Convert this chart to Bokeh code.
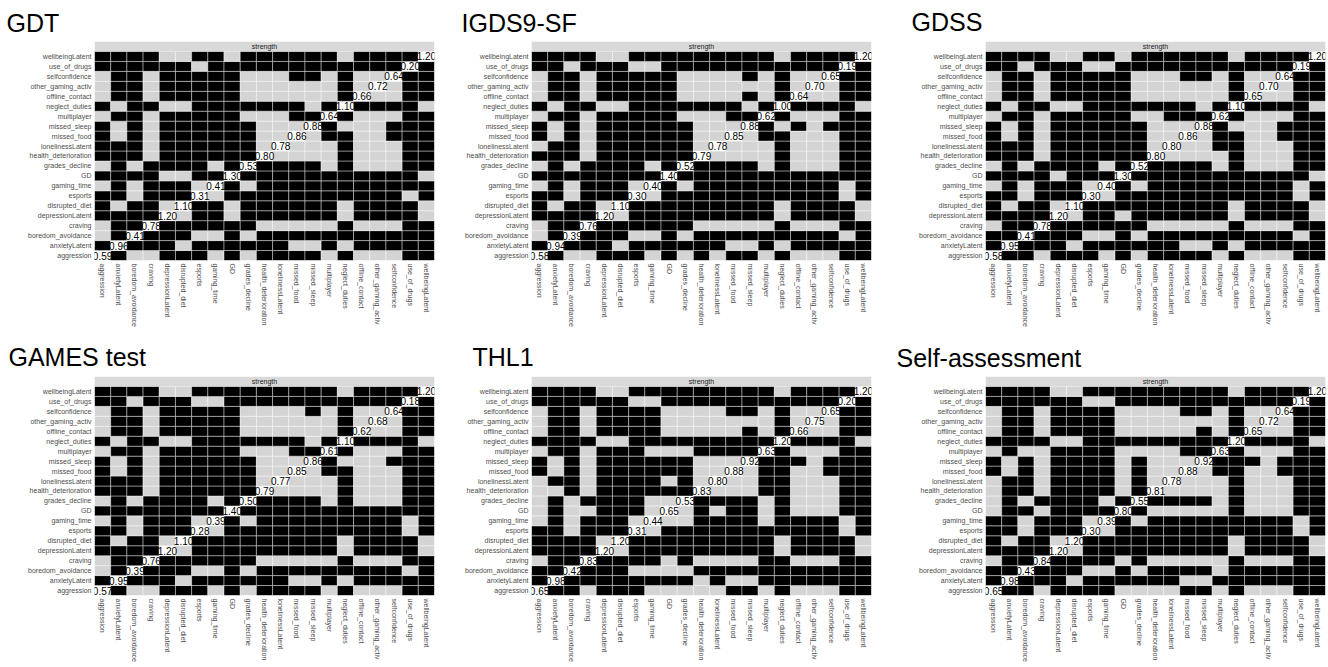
import math
from bokeh.plotting import figure
from bokeh.models import BoxAnnotation, Label, FactorRange, ColumnDataSource
from bokeh.layouts import row, column
from bokeh.embed import file_html
from bokeh.resources import INLINE
from bokeh.core.properties import value

# ---------------- data ----------------
variables = ["aggression", "anxietyLatent", "boredom_avoidance", "craving", "depressionLatent",
             "disrupted_diet", "esports", "gaming_time", "GD", "grades_decline",
             "health_deterioration", "lonelinessLatent", "missed_food", "missed_sleep",
             "multiplayer", "neglect_duties", "offline_contact", "other_gaming_activ",
             "selfconfidence", "use_of_drugs", "wellbeingLatent"]
strip_label = "strength"
panel_titles = ["GDT", "IGDS9-SF", "GDSS", "GAMES test", "THL1", "Self-assessment"]

# rows in the order of `variables` (bottom row first); '#' = black (significant difference),
# '.' = grey (not significant), 'o' = diagonal (node strength shown as text)
gdt_cells = [
    "o#..###.#.####.#...##", "#o###.######..#.#####", ".#o###..#.###########",
    ".##o######.....#...##", "####o.##.######.####.", "#.##.o##.######.####.",
    "##.###o.###########.#", ".#.###.o#.###########", "####..##o###########.",
    ".#.####.#o####.#...##", "###.######o....#...##", "###.######.o...#...##",
    "#.#.######..o.##..###", "#.#.######...o#...###", ".##.#####...##o#...##",
    "#.##..#######.#o####.", ".##.#####......#o..##", ".##.#####......#.o.##",
    ".##.#####...##.#..o##", "######.############o#", "####..##.######.####o"]
gdt_diag = [0.59, 0.96, 0.41, 0.78, 1.20, 1.10, 0.31, 0.41, 1.30, 0.53, 0.80,
            0.78, 0.86, 0.88, 0.64, 1.10, 0.66, 0.72, 0.64, 0.20, 1.20]

igds_cells = [
    "o#..###.#.#.##.#...##", "#o###.######..#.#####", ".#o###..#.#########.#",
    ".##o######.....#...##", "####o.#########.####.", "#.##.o#########.####.",
    "##.###o.###########.#", ".#.###.o#.#########.#", "########o############",
    ".#.####.#o####.#...##", "###.######o....#...##", ".##.######.o...#...##",
    "#.#.######..o.##...##", "#.#.######...o#.#.###", ".##.#####...##o#...##",
    "#.##..#######.#o####.", ".##.#####....#.#o..##", ".##.#####......#.o.##",
    ".##.#####....#.#..o##", "##.###..###########o#", "####..#########.####o"]
igds_diag = [0.58, 0.94, 0.39, 0.76, 1.20, 1.10, 0.30, 0.40, 1.40, 0.52, 0.79,
             0.78, 0.85, 0.88, 0.62, 1.00, 0.64, 0.70, 0.65, 0.19, 1.20]

gdss_cells = [
    "o##.###.#.####.#...##", "#o###.######..#.#####", "##o###..#.#########.#",
    ".##o######.....#...##", "####o.##.######.####.", "#.##.o#########.####.",
    "##.###o.###########.#", ".#.###.o#.#########.#", "####.###o###########.",
    ".#.####.#o####.#...##", "###.######o....#...##", "###.######.o..##...##",
    "#.#.######..o.##..###", "#.#.######...o#...###", ".##.#####..###o#...##",
    "#.##..#######.#o####.", ".##.#####......#o..##", ".##.#####......#.o.##",
    ".##.#####...##.#..o##", "##.###..###########o#", "####..##.######.####o"]
gdss_diag = [0.58, 0.95, 0.41, 0.78, 1.20, 1.10, 0.30, 0.40, 1.30, 0.52, 0.80,
             0.80, 0.86, 0.88, 0.62, 1.10, 0.65, 0.70, 0.64, 0.19, 1.20]

games_cells = [
    "o#..###.#.####.#...##", "#o###.######..#.#####", ".#o###..#.#########.#",
    ".##o######.....#...##", "####o.#########.####.", "#.##.o#########.####.",
    "##.###o.###########.#", ".#.###.o#.#########.#", "########o############",
    ".#.####.#o####.#...##", "###.######o....#...##", "###.######.o...#...##",
    "#.#.######..o.##...##", "#.#.######...o#...###", ".##.#####...##o#...##",
    "#.##..#######.#o####.", ".##.#####......#o..##", ".##.#####......#.o.##",
    ".##.#####....#.#..o##", "##.###..###########o#", "####..#########.####o"]
games_diag = [0.57, 0.95, 0.39, 0.76, 1.20, 1.10, 0.28, 0.39, 1.40, 0.50, 0.79,
              0.77, 0.85, 0.86, 0.61, 1.10, 0.62, 0.68, 0.64, 0.18, 1.20]

thl1_cells = [
    "o##.###.....##.#...##", "#o########.#..#######", "##o###....###########",
    ".##o####.#....##...##", "####o.#########.####.", "####.o#########.####.",
    "##.###o.###########.#", ".#.###.o..####.####.#", ".#..###.o.#.##.#...##",
    ".#.####..o####.#...##", "..#.######o...##...##", ".##.####.#.o..##...##",
    "#.#.######..o.##..###", "#.#.######...o###.###", ".##.###...####o#...##",
    "####..#########o####.", ".##.####.....#.#o..##", ".##.####.......#.o.##",
    ".##.####....##.#..o##", "######..###########o#", "####..#########.####o"]
thl1_diag = [0.65, 0.98, 0.42, 0.83, 1.20, 1.20, 0.31, 0.44, 0.65, 0.53, 0.83,
             0.80, 0.88, 0.92, 0.63, 1.20, 0.66, 0.75, 0.65, 0.20, 1.20]

self_cells = [
    "o##.####....##.#...##", "#o###.######..#######", "##o###..#.####.######",
    ".##o####.#.....#...##", "####o.#########.####.", "#.##.o#########.####.",
    "##.###o.###########.#", "##.###.o#.#########.#", ".##.####o#.....#...##",
    ".#.####.#o####.#...##", ".##.####.#o....#...##", ".##.####.#.o...#...##",
    "#.#.####.#..o.##..###", "#.#.####.#...o###.###", ".#..####....##o#...##",
    "####..#########o####.", ".##.####.....#.#o..##", ".##.####.......#.o.##",
    ".##.####....##.#..o##", "######..###########o#", "####..#########.####o"]
self_diag = [0.65, 0.98, 0.43, 0.84, 1.20, 1.20, 0.30, 0.39, 0.80, 0.55, 0.81,
             0.78, 0.88, 0.92, 0.63, 1.20, 0.65, 0.72, 0.64, 0.19, 1.20]

panel_cells = [gdt_cells, igds_cells, gdss_cells, games_cells, thl1_cells, self_cells]
panel_diags = [gdt_diag, igds_diag, gdss_diag, games_diag, thl1_diag, self_diag]

# ---------------- styling / layout ----------------
FONT = "Liberation Sans"
COLORS = {"#": "#000000", ".": "#d4d4d4", "o": "#ffffff"}
STRIP_FILL = "#d9d9d9"
LABEL_COL = "#4d4d4d"
STRIP_FACTOR = " "   # blank factor that holds the facet strip

# width, height, border left, right, top, bottom, title offset, title standoff
# (Bokeh aligns the frames of the plots that share a row)
layouts = [
    (440, 334, 94, 6, 41, 74, -88, 10),
    (455, 334, 91, 24, 41, 74, -70, 10),
    (433, 334, 90, 3, 41, 74, -74, 11),
    (440, 338, 94, 6, 41, 77, -86, 12),
    (455, 338, 91, 24, 41, 77, -59, 12),
    (433, 338, 90, 3, 41, 77, -89, 9),
]


def make_panel(title, cells, diag, lay):
    w, h, bl, br, bt, bb, toff, tst = lay
    xs, ys, cols = [], [], []
    for i, rowstr in enumerate(cells):
        for j, ch in enumerate(rowstr):
            xs.append(variables[j])
            ys.append(variables[i])
            cols.append(COLORS[ch])
    src = ColumnDataSource(dict(x=xs, y=ys, c=cols))

    p = figure(x_range=FactorRange(factors=variables),
               y_range=FactorRange(factors=variables + [STRIP_FACTOR]),
               width=w, height=h,
               min_border_left=bl, min_border_right=br, min_border_top=bt,
               min_border_bottom=bb, title=title,
               toolbar_location=None, output_backend="svg")
    p.title.text_font = FONT
    p.title.text_font_size = "25px"
    p.title.text_font_style = "normal"
    p.title.text_color = "#000000"
    p.title.align = "left"
    p.title.offset = toff
    p.title.standoff = tst

    p.rect(x="x", y="y", width=1, height=1, fill_color="c", line_color="white",
           line_width=0.5, line_alpha=0.8, source=src)

    # facet strip on top of the panel
    p.add_layout(BoxAnnotation(bottom=len(variables), fill_color=STRIP_FILL, fill_alpha=1,
                               line_color=None))
    p.add_layout(Label(x=len(variables) / 2, y=len(variables) + 0.5, text=strip_label,
                       text_align="center", text_baseline="middle", text_font=FONT,
                       text_font_size="7px", text_color="#1a1a1a"))

    p.text(x=variables, y=variables, text=["%.2f" % v for v in diag],
           text_align="center", text_baseline="middle", text_font=value(FONT),
           text_font_size="10px", text_color="#000000")

    p.xaxis.major_label_orientation = -math.pi / 2
    for ax in (p.xaxis[0], p.yaxis[0]):
        ax.axis_label = None
        ax.axis_label_standoff = 0
        ax.axis_label_text_font_size = "0px"
        ax.axis_line_color = None
        ax.major_tick_line_color = None
        ax.minor_tick_line_color = None
        ax.major_tick_out = 0
        ax.major_tick_in = 0
        ax.major_label_text_font = FONT
        ax.major_label_text_font_size = "7px"
        ax.major_label_text_color = LABEL_COL
    p.xaxis.major_label_standoff = 3
    p.yaxis.major_label_standoff = 3
    p.xgrid.grid_line_color = None
    p.ygrid.grid_line_color = None
    p.outline_line_color = None
    p.background_fill_color = "white"
    return p


figs = [make_panel(t, c, d, l) for t, c, d, l in zip(panel_titles, panel_cells, panel_diags, layouts)]

root = column(row(figs[0], figs[1], figs[2]), row(figs[3], figs[4], figs[5]))

open("out.html", "w").write(file_html(root, INLINE))
